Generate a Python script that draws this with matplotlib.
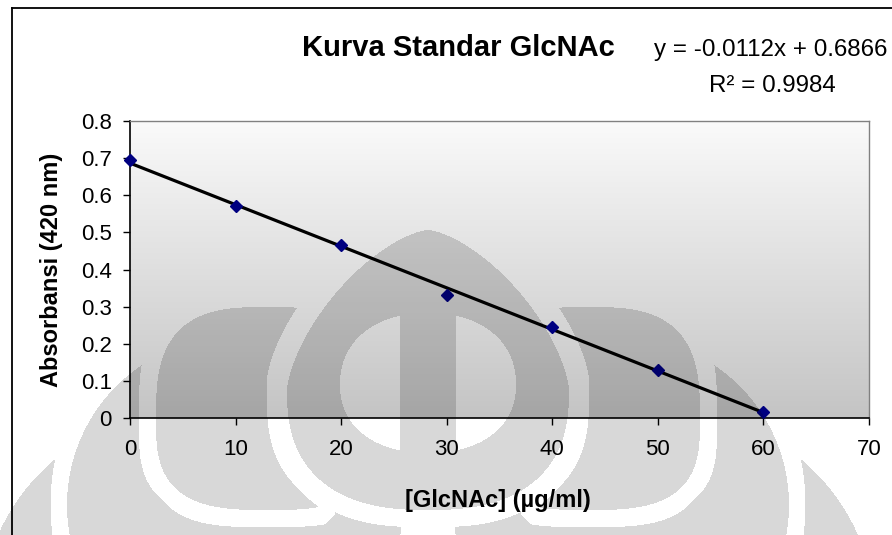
import numpy as np
import matplotlib
matplotlib.use('Agg')
import matplotlib.pyplot as plt
from matplotlib.lines import Line2D

plt.rcParams['font.family'] = ['Liberation Sans', 'DejaVu Sans']

# data kurva standar
konsentrasi = [0, 10, 20, 30, 40, 50, 60]
absorbansi = [0.695, 0.570, 0.465, 0.330, 0.245, 0.130, 0.015]
slope = -0.0112
intercept = 0.6866
r_kuadrat = 0.9984

x_ticks = [0, 10, 20, 30, 40, 50, 60, 70]
y_ticks = [0, 0.1, 0.2, 0.3, 0.4, 0.5, 0.6, 0.7, 0.8]

W, H = 892, 535  # ukuran gambar (px)


def superellipse(xx, yy, x0, y0, a, b_top, b_bot, p_top, p_bot):
    atas = yy < y0
    b = np.where(atas, b_top, b_bot)
    p = np.where(atas, p_top, p_bot)
    return np.abs((xx - x0) / a) ** p + np.abs((yy - y0) / b) ** p <= 1


def disk(xx, yy, x0, y0, r):
    return (xx - x0) ** 2 + (yy - y0) ** 2 <= r ** 2


def grow(m, n):
    # dilatasi sederhana, selang-seling 4 dan 8 tetangga
    for i in range(n):
        g = m.copy()
        g[1:, :] |= m[:-1, :]
        g[:-1, :] |= m[1:, :]
        g[:, 1:] |= m[:, :-1]
        g[:, :-1] |= m[:, 1:]
        if i % 2:
            g[1:, 1:] |= m[:-1, :-1]
            g[:-1, :-1] |= m[1:, 1:]
            g[1:, :-1] |= m[:-1, 1:]
            g[:-1, 1:] |= m[1:, :-1]
        m = g
    return m


def makara_mask():
    yy, xx = np.mgrid[0:H, 0:W] + 0.5
    cx = 428
    kubah = superellipse(xx, yy, cx, 390, 141, 160, 120, 1.5, 2.5)
    lubang = superellipse(xx, yy, cx, 385, 88, 72, 68, 2.2, 2.2) & (np.abs(xx - cx) >= 28)

    l1 = np.zeros_like(kubah)
    l2 = np.zeros_like(kubah)
    l3 = np.zeros_like(kubah)
    for x0 in (268, 2 * cx - 268):
        l1 |= superellipse(xx, yy, x0, 420, 112, 113, 90, 3, 3)
    for x0 in (235, 2 * cx - 235):
        l2 |= disk(xx, yy, x0, 505, 168)
    for x0 in (190, 2 * cx - 190):
        l3 |= disk(xx, yy, x0, 620, 210)

    l1 &= ~grow(kubah, 20)
    l2 &= ~grow(kubah | l1, 17)
    l3 &= ~grow(kubah | l1 | l2, 16)
    return (kubah & ~lubang) | l1 | l2 | l3


fig = plt.figure(figsize=(W / 100, H / 100), dpi=100)

ax = fig.add_axes([130 / W, 1 - 418 / H, (869 - 130) / W, (418 - 121) / H])

# latar area plot: gradasi putih ke abu-abu
grad = np.repeat(np.linspace(250, 196, 256)[:, None, None] / 255, 3, axis=2)
ax.imshow(grad, extent=(0, 70, 0, 0.8), aspect='auto', zorder=0, interpolation='bilinear')

xs = np.array([min(konsentrasi), max(konsentrasi)])
ax.plot(xs, slope * xs + intercept, color='black', lw=2.3, zorder=3)
ax.plot(konsentrasi, absorbansi, 'D', color='#000080', ms=6.5, zorder=4, clip_on=False)

ax.set_xlim(0, 70)
ax.set_ylim(0, 0.8)
ax.set_xticks(x_ticks)
ax.set_yticks(y_ticks)
ax.set_yticklabels([f'{v:g}' for v in y_ticks])
ax.tick_params(direction='out', length=5, width=1, labelsize=16, colors='black')
ax.tick_params(axis='y', pad=8)
ax.tick_params(axis='x', pad=10)
for s in ('top', 'right'):
    ax.spines[s].set_color('#808080')
    ax.spines[s].set_linewidth(1)
for s in ('left', 'bottom'):
    ax.spines[s].set_color('black')
    ax.spines[s].set_linewidth(1.2)

fig.text(52 / W, 1 - 270 / H, 'Absorbansi (420 nm)', rotation=90, ha='center', va='center',
         fontsize=17, fontweight='bold')
fig.text(498 / W, 1 - 500 / H, '[GlcNAc] (µg/ml)', ha='center', va='center',
         fontsize=17, fontweight='bold')
fig.text(458 / W, 1 - 56 / H, 'Kurva Standar GlcNAc', ha='center', va='baseline',
         fontsize=21, fontweight='bold')
fig.text(887 / W, 1 - 56 / H, f'y = {slope:.4f}x + {intercept:.4f}', ha='right', va='baseline',
         fontsize=17.4)
fig.text(772 / W, 1 - 92 / H, f'R² = {r_kuadrat:.4f}', ha='center', va='baseline', fontsize=17.4)

# bingkai luar grafik
fig.add_artist(Line2D([12 / W, 1], [1 - 8 / H, 1 - 8 / H], color='black', lw=1.3))
fig.add_artist(Line2D([12 / W, 12 / W], [0, 1 - 8 / H], color='black', lw=1.3))

# logo samar di atas seluruh gambar
wm = fig.add_axes([0, 0, 1, 1], zorder=10)
rgba = np.zeros((H, W, 4))
rgba[..., 3] = makara_mask() * 0.155
wm.imshow(rgba, extent=(0, W, H, 0), aspect='auto', interpolation='nearest')
wm.set_xlim(0, W)
wm.set_ylim(H, 0)
wm.axis('off')

fig.savefig('out.png', dpi=100)
